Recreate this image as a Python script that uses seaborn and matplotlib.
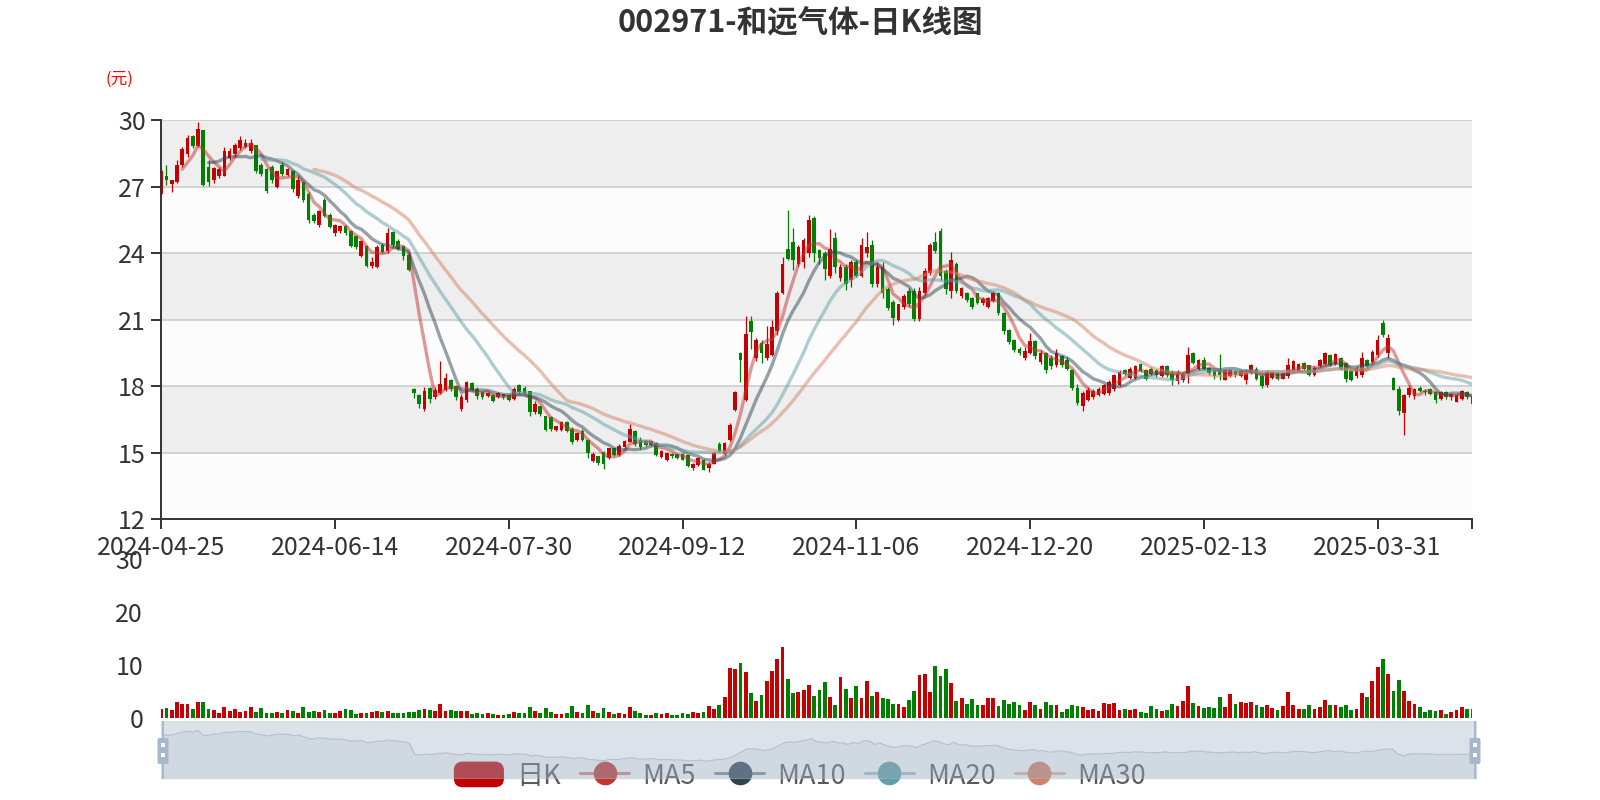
# Load libraries
import numpy as np
import pandas as pd
import matplotlib
matplotlib.use('Agg')
from matplotlib import pyplot as plt
from matplotlib.patches import Rectangle, FancyBboxPatch, Patch
from matplotlib.lines import Line2D
from matplotlib.legend_handler import HandlerPatch
from matplotlib.transforms import IdentityTransform
import seaborn as sns

# Daily K data for 002971, 2024-04-25 .. 2025-04-25
tick_labels = ['2024-04-25', '2024-06-14', '2024-07-30', '2024-09-12',
               '2024-11-06', '2024-12-20', '2025-02-13', '2025-03-31']

open_ = [
    26.7, 27.5, 27.15, 27.2, 28.0, 28.5, 29.3, 28.85, 29.55, 27.9,
    27.3, 27.5, 27.5, 28.3, 28.5, 28.75, 28.8, 28.6, 28.9, 28.0,
    27.8, 27.9, 27.0, 28.0, 27.55, 27.7, 26.6, 27.2, 26.7, 25.75,
    25.3, 26.4, 25.75, 24.9, 25.0, 25.25, 25.0, 24.8, 23.9, 24.35,
    23.45, 23.4, 24.4, 24.1, 24.95, 24.55, 24.35, 23.95, 17.9, 17.6,
    17.0, 17.95, 17.5, 17.7, 17.85, 18.3, 18.0, 17.0, 17.4, 18.15,
    17.9, 17.75, 17.55, 17.6, 17.5, 17.65, 17.6, 17.45, 18.05, 17.95,
    17.8, 16.85, 17.1, 16.65, 16.6, 16.05, 16.05, 16.4, 16.1, 15.6,
    16.0, 15.6, 14.65, 14.85, 15.05, 14.75, 15.2, 14.9, 15.25, 15.5,
    16.0, 15.6, 15.55, 15.35, 15.45, 14.8, 14.7, 14.95, 14.95, 14.95,
    14.9, 14.3, 14.45, 14.7, 14.3, 14.5, 15.4, 14.95, 15.6, 16.95,
    19.5, 17.4, 20.95, 19.3, 19.95, 19.3, 19.4, 20.5, 22.2, 24.2,
    24.5, 23.5, 23.6, 24.0, 25.6, 24.15, 24.0, 23.0, 24.7, 22.9,
    23.4, 22.8, 23.6, 23.0, 24.0, 24.4, 22.6, 23.4, 22.4, 21.8,
    21.0, 21.6, 22.3, 22.3, 21.05, 22.2, 23.1, 24.5, 25.0, 23.2,
    22.3, 23.5, 22.1, 22.2, 22.0, 22.2, 21.75, 21.6, 21.85, 22.2,
    21.3, 20.55, 20.1, 19.7, 19.3, 19.5, 20.05, 19.1, 19.5, 19.3,
    18.95, 19.35, 19.2, 18.75, 17.95, 17.1, 17.4, 17.5, 17.6, 17.65,
    17.7, 17.9, 18.05, 18.75, 18.4, 18.4, 19.0, 18.75, 18.8, 18.75,
    18.45, 18.9, 18.6, 18.25, 18.3, 18.55, 19.5, 18.8, 19.2, 18.85,
    18.7, 18.75, 18.3, 18.45, 18.7, 18.45, 18.3, 18.6, 18.8, 18.45,
    18.05, 18.4, 18.6, 18.35, 18.45, 18.75, 18.7, 19.05, 18.95, 18.5,
    18.9, 19.0, 19.4, 19.0, 19.3, 19.05, 18.7, 18.45, 18.5, 19.2,
    19.1, 19.4, 20.85, 19.5, 18.4, 17.9, 16.8, 17.6, 17.55, 17.95,
    17.8, 17.9, 17.75, 17.45, 17.75, 17.5, 17.3, 17.45, 17.75, 17.5,
]
close = [
    27.7, 27.3, 27.3, 28.0, 28.7, 29.2, 28.85, 29.6, 27.1, 27.2,
    27.85, 27.8, 28.6, 28.6, 28.9, 29.1, 29.0, 29.0, 27.7, 27.6,
    26.8, 27.3, 27.7, 27.6, 27.8, 26.9, 27.3, 26.4, 25.5, 25.45,
    25.9, 25.7, 25.2, 25.3, 25.25, 24.9, 24.35, 24.3, 24.55, 23.45,
    23.6, 24.3, 24.05, 24.9, 24.4, 24.2, 23.9, 23.25, 17.7, 17.2,
    17.8, 17.45, 17.85, 18.1, 18.4, 17.9, 17.5, 17.5, 18.2, 17.85,
    17.55, 17.5, 17.7, 17.35, 17.7, 17.5, 17.4, 17.9, 17.75, 17.7,
    16.85, 17.2, 16.75, 16.05, 16.1, 16.2, 16.4, 16.0, 15.5, 15.9,
    15.6, 15.0, 14.95, 14.55, 14.5, 15.2, 14.9, 15.3, 15.55, 16.1,
    15.4, 15.25, 15.35, 15.55, 14.9, 15.1, 15.0, 14.85, 14.75, 14.7,
    14.4, 14.5, 14.75, 14.25, 14.5, 15.0, 15.1, 15.45, 16.25, 17.75,
    19.2, 20.35, 20.45, 20.1, 19.5, 19.9, 20.7, 22.2, 23.5, 23.75,
    23.7, 24.3, 24.6, 25.5, 24.0, 23.8, 23.3, 24.2, 23.4, 23.4,
    22.6, 23.6, 23.0, 24.4, 24.3, 22.6, 23.4, 22.2, 21.55, 21.1,
    21.7, 22.1, 21.7, 21.05, 22.3, 23.2, 24.4, 24.1, 23.0, 22.4,
    23.7, 22.3, 22.45, 21.9, 21.6, 21.75, 21.95, 22.0, 22.2, 21.3,
    20.5, 20.0, 19.65, 19.5, 19.6, 20.05, 19.35, 19.5, 18.75, 18.9,
    19.5, 18.95, 18.8, 17.95, 17.25, 17.7, 17.85, 17.8, 17.9, 18.05,
    18.2, 18.5, 18.65, 18.55, 18.8, 18.9, 18.7, 18.35, 18.55, 18.5,
    18.9, 18.5, 18.3, 18.6, 18.55, 19.4, 19.05, 19.2, 18.8, 18.6,
    18.45, 18.5, 18.75, 18.75, 18.5, 18.7, 18.6, 18.95, 18.35, 18.0,
    18.65, 18.65, 18.35, 18.6, 18.95, 19.15, 19.0, 18.8, 18.5, 18.85,
    19.2, 19.5, 18.95, 19.45, 18.8, 18.35, 18.3, 18.85, 19.3, 18.9,
    19.55, 20.1, 20.3, 20.2, 17.85, 16.9, 17.6, 17.95, 17.9, 17.8,
    17.75, 17.65, 17.4, 17.75, 17.5, 17.65, 17.6, 17.8, 17.5, 17.2,
]
high = [
    27.85, 28.0, 27.3, 28.22, 28.82, 29.35, 29.35, 29.95, 29.58, 28.22,
    27.92, 27.92, 28.82, 28.75, 28.97, 29.31, 29.16, 29.16, 28.9, 28.07,
    27.84, 27.99, 27.72, 28.14, 27.84, 27.77, 27.47, 27.24, 26.79, 25.81,
    25.96, 26.49, 25.81, 25.32, 25.28, 25.28, 25.05, 24.83, 24.6, 24.37,
    23.85, 24.37, 24.49, 25.13, 25.0, 24.63, 24.38, 24.0, 17.92, 17.66,
    17.96, 17.99, 17.96, 19.15, 18.6, 18.33, 18.03, 17.66, 18.25, 18.18,
    17.96, 17.81, 17.73, 17.66, 17.76, 17.66, 17.66, 17.96, 18.1, 18.03,
    17.81, 17.36, 17.13, 16.68, 16.68, 16.23, 16.45, 16.45, 16.15, 15.93,
    16.08, 15.62, 15.02, 14.87, 15.1, 15.22, 15.22, 15.4, 15.6, 16.3,
    16.03, 15.7, 15.6, 15.55, 15.5, 15.15, 15.02, 15.0, 14.97, 14.98,
    14.92, 14.55, 14.8, 14.72, 14.57, 15.05, 15.47, 15.48, 16.36, 17.77,
    19.55, 21.18, 21.18, 20.2, 20.1, 20.73, 21.0, 22.3, 23.83, 25.96,
    25.13, 24.38, 24.68, 25.73, 25.68, 24.2, 24.13, 25.08, 24.98, 23.5,
    23.5, 23.72, 23.72, 24.7, 24.98, 24.6, 23.6, 23.6, 22.49, 21.88,
    21.73, 22.19, 22.42, 22.42, 22.49, 23.32, 24.45, 24.98, 25.13, 23.29,
    24.07, 23.6, 22.5, 22.25, 22.05, 22.22, 22.05, 22.05, 22.25, 22.25,
    21.35, 20.6, 20.15, 19.8, 19.78, 20.4, 20.08, 19.63, 19.55, 19.4,
    19.7, 19.4, 19.32, 18.8, 18.12, 17.81, 17.96, 17.9, 17.96, 18.12,
    18.27, 18.57, 18.72, 18.8, 18.87, 18.95, 19.06, 18.8, 18.87, 18.8,
    18.95, 18.95, 18.72, 18.72, 18.65, 19.78, 19.55, 19.25, 19.32, 18.87,
    18.72, 19.48, 18.8, 18.8, 18.72, 18.72, 18.8, 19.02, 18.87, 18.5,
    18.73, 18.7, 18.65, 18.62, 19.26, 19.2, 19.05, 19.12, 18.97, 18.9,
    19.23, 19.56, 19.45, 19.5, 19.33, 19.1, 18.75, 18.9, 19.56, 19.25,
    19.63, 20.3, 20.98, 20.38, 18.42, 18.0, 17.67, 18.05, 17.95, 18.0,
    17.9, 17.92, 17.8, 17.8, 17.78, 17.7, 17.65, 17.82, 17.78, 17.55,
]
low = [
    26.6, 27.1, 26.75, 27.16, 27.92, 28.37, 28.75, 28.82, 27.04, 27.04,
    27.16, 27.39, 27.47, 28.22, 28.37, 28.67, 28.75, 28.52, 27.62, 27.47,
    26.74, 27.16, 26.97, 27.47, 27.47, 26.79, 26.49, 26.33, 25.35, 25.35,
    25.2, 25.66, 25.13, 24.78, 24.9, 24.83, 24.3, 24.22, 23.85, 23.39,
    23.32, 23.32, 24.0, 24.0, 24.3, 24.15, 23.7, 23.2, 17.48, 17.03,
    16.91, 17.24, 17.45, 17.66, 17.81, 17.81, 17.39, 16.91, 17.28, 17.81,
    17.43, 17.43, 17.51, 17.28, 17.48, 17.43, 17.36, 17.39, 17.66, 17.66,
    16.68, 16.76, 16.68, 16.0, 16.0, 16.0, 16.0, 15.93, 15.4, 15.55,
    15.55, 14.79, 14.57, 14.47, 14.27, 14.72, 14.87, 14.87, 15.18, 15.47,
    15.32, 15.18, 15.3, 15.3, 14.87, 14.75, 14.65, 14.78, 14.72, 14.69,
    14.35, 14.22, 14.4, 14.22, 14.13, 14.48, 15.02, 14.9, 15.55, 16.9,
    18.2, 17.36, 19.67, 19.14, 19.06, 19.2, 19.36, 20.3, 22.18, 23.7,
    23.25, 23.43, 23.32, 23.85, 23.62, 23.5, 22.78, 22.9, 23.1, 22.75,
    22.34, 22.49, 22.93, 22.93, 23.85, 22.49, 22.49, 22.0, 21.43, 20.75,
    20.97, 21.51, 21.58, 20.97, 20.97, 22.12, 23.02, 24.0, 22.78, 22.16,
    22.0, 22.2, 22.0, 21.8, 21.5, 21.7, 21.65, 21.55, 21.8, 21.2,
    20.37, 19.93, 19.55, 19.4, 19.2, 19.45, 19.25, 19.02, 18.6, 18.8,
    18.87, 18.87, 18.72, 17.84, 17.14, 16.91, 17.36, 17.43, 17.58, 17.6,
    17.6, 17.81, 18.0, 18.5, 18.35, 18.35, 18.65, 18.3, 18.5, 18.42,
    18.42, 18.42, 18.05, 18.12, 18.2, 18.15, 19.02, 18.72, 18.72, 18.5,
    18.35, 18.27, 18.27, 18.42, 18.42, 18.42, 18.12, 18.57, 18.27, 17.93,
    17.97, 18.35, 18.3, 18.32, 18.36, 18.7, 18.68, 18.75, 18.45, 18.45,
    18.88, 18.98, 18.9, 18.95, 18.75, 18.2, 18.25, 18.4, 18.42, 18.85,
    19.05, 19.33, 20.23, 19.26, 17.82, 16.69, 15.79, 17.52, 17.45, 17.75,
    17.6, 17.6, 17.25, 17.4, 17.45, 17.4, 17.28, 17.4, 17.45, 17.15,
]
volume = [
    1.85, 2.04, 1.67, 3.09, 2.78, 2.78, 1.85, 3.15, 3.02, 1.85,
    1.67, 0.93, 2.22, 1.36, 1.85, 1.3, 1.42, 2.22, 1.3, 2.04,
    1.05, 1.11, 1.3, 0.99, 1.6, 1.42, 1.11, 2.16, 1.23, 1.48,
    1.3, 1.67, 1.05, 0.93, 1.48, 1.79, 1.54, 0.8, 1.11, 1.11,
    1.2, 1.36, 1.3, 1.48, 1.05, 0.93, 1.11, 1.3, 1.3, 1.6,
    1.85, 1.67, 1.48, 2.72, 1.42, 1.67, 1.42, 1.42, 1.48, 0.8,
    0.93, 0.9, 0.93, 0.8, 0.68, 0.56, 0.74, 1.3, 1.11, 1.11,
    2.16, 1.36, 0.93, 1.91, 1.17, 0.8, 0.8, 1.11, 2.28, 1.3,
    0.99, 2.6, 1.36, 1.11, 1.98, 1.23, 0.74, 0.99, 0.86, 2.1,
    1.42, 1.05, 0.62, 0.56, 1.11, 0.86, 0.99, 0.56, 0.68, 1.11,
    0.8, 1.17, 1.05, 1.23, 2.35, 1.79, 2.53, 4.01, 9.57, 9.38,
    10.37, 8.7, 4.75, 3.27, 4.38, 7.1, 8.95, 11.17, 13.52, 7.35,
    4.75, 4.94, 5.31, 6.36, 4.2, 5.37, 6.85, 3.95, 2.47, 7.72,
    5.49, 3.89, 6.05, 3.89, 6.98, 4.2, 5.0, 3.89, 3.7, 2.72,
    2.65, 2.22, 3.4, 5.12, 8.09, 8.33, 5.0, 9.88, 7.96, 9.38,
    6.73, 3.27, 3.89, 2.65, 3.7, 2.47, 2.59, 3.89, 3.77, 2.28,
    3.46, 2.65, 3.02, 2.59, 1.67, 3.09, 2.6, 1.73, 3.02, 2.6,
    2.6, 1.23, 1.85, 2.6, 2.41, 2.16, 1.6, 1.85, 1.36, 2.9,
    2.72, 2.9, 1.67, 1.79, 1.54, 1.79, 1.3, 1.11, 2.28, 1.79,
    1.42, 1.6, 2.78, 2.3, 3.33, 6.17, 2.84, 2.28, 1.98, 2.16,
    2.04, 4.01, 2.16, 4.57, 2.78, 3.09, 2.9, 3.09, 2.53, 2.16,
    2.6, 1.91, 1.6, 2.28, 5.0, 2.6, 1.85, 1.85, 2.6, 1.79,
    2.1, 3.4, 2.6, 2.47, 2.22, 2.53, 1.54, 1.85, 4.75, 4.01,
    6.98, 9.75, 11.23, 8.46, 5.12, 7.16, 5.19, 3.21, 2.78, 2.16,
    1.23, 1.6, 1.42, 1.5, 0.8, 1.3, 1.6, 2.22, 1.79, 1.73,
]

ma_windows = [5, 10, 20, 30]
ma_colors = ['#c23531', '#2f4554', '#61a0a8', '#d48265']
RED = '#c40000'
GREEN = '#008000'

df = pd.DataFrame({'open': open_, 'close': close, 'high': high, 'low': low, 'vol': volume})
df['idx'] = np.arange(len(df))
df['dir'] = np.where(df['close'] >= df['open'], 'up', 'down')
for n in ma_windows:
    df['MA%d' % n] = df['close'].rolling(n).mean()
n_last = len(df) - 1

sns.set_theme(style='white')
plt.rcParams['font.family'] = ['Noto Sans CJK SC', 'DejaVu Sans']

# pixel helpers (figure is 1600 x 800)
W, H = 1600, 800
def fx(px):
    return px / W
def fy(py):
    return 1 - py / H

fig = plt.figure(figsize=(16, 8), dpi=100)
ax = fig.add_axes([fx(161.2), fy(519.4), (1472.4 - 161.2) / W, (519.4 - 120.4) / H])
ax_vol = fig.add_axes([fx(161.2), fy(718.4), (1472.4 - 161.2) / W, (718.4 - 559.2) / H])
ax_sl = fig.add_axes([fx(161), fy(779), (1477 - 161) / W, (779 - 721) / H])

# ---- price panel ----
for k, lo in enumerate(range(12, 30, 3)):
    ax.axhspan(lo, lo + 3, color='#fcfcfc' if k % 2 == 0 else '#eeeeee', lw=0, zorder=0)
for y in range(15, 31, 3):
    ax.axhline(y, color='#cccccc', lw=1.2, zorder=0.5)

cols = np.where(df['dir'] == 'up', RED, GREEN)
ax.vlines(df['idx'], df['low'], df['high'], colors=cols, lw=0.9, zorder=2)
body_lo = np.minimum(df['open'], df['close'])
body_h = np.maximum((df['close'] - df['open']).abs(), 0.03)
ax.bar(df['idx'], body_h, bottom=body_lo, width=0.7, color=cols, lw=0, zorder=2.5)

for n, c in zip(ma_windows, ma_colors):
    sns.lineplot(data=df, x='idx', y='MA%d' % n, ax=ax, color=c, alpha=0.5, lw=2.4,
                 zorder=3, solid_capstyle='round')

ax.set_xlim(0, n_last)
ax.set_ylim(12, 30)
ax.set_yticks(range(12, 31, 3))
ax.set_xticks(range(0, 232, 33))
ax.set_xticklabels(tick_labels)
ax.set_xticks([n_last], minor=True)
ax.set_xlabel('')
ax.set_ylabel('')
for s in ['top', 'right']:
    ax.spines[s].set_visible(False)
for s in ['left', 'bottom']:
    ax.spines[s].set_color('#333333')
    ax.spines[s].set_linewidth(1.4)
    ax.spines[s].set_zorder(4)
ax.tick_params(axis='both', which='both', direction='out', length=7.2, width=1.4,
               color='#333333', labelsize=18, labelcolor='#333333',
               bottom=True, left=True, pad=4)

# ---- volume panel ----
sns.barplot(data=df, x='idx', y='vol', hue='dir', palette={'up': RED, 'down': GREEN},
            native_scale=True, width=0.72, dodge=False, errorbar=None, legend=False,
            saturation=1, linewidth=0, ax=ax_vol)
ax_vol.set_xlim(0, n_last)
ax_vol.set_ylim(0, 30)
ax_vol.set_yticks([0, 10, 20, 30])
ax_vol.set_xticks([])
ax_vol.set_xlabel('')
ax_vol.set_ylabel('')
for s in ax_vol.spines.values():
    s.set_visible(False)
ax_vol.tick_params(axis='y', length=0, labelsize=18, labelcolor='#333333', pad=13)
ax_vol.patch.set_alpha(0)

# ---- data zoom slider ----
ax_sl.set_xlim(0, n_last)
ax_sl.set_ylim(5.3, 34.3)
ax_sl.fill_between(df['idx'], df['close'], 5.3, color='#2f4554', alpha=0.09, lw=0)
sns.lineplot(data=df, x='idx', y='close', ax=ax_sl, color='#2f4554', alpha=0.3, lw=0.8)
ax_sl.add_patch(Rectangle((0, 0), 1, 1, transform=ax_sl.transAxes, fc='#a7b7cc',
                          alpha=0.4, lw=0, zorder=3))
ax_sl.add_patch(Rectangle((0, 0), 1, 1, transform=ax_sl.transAxes, fill=False,
                          ec='#dddddd', lw=1.0, zorder=4))
ax_sl.axis('off')
ax_sl.patch.set_alpha(0)
ax_sl.set_zorder(5)

pix = IdentityTransform()
for hx in [163, 1475]:
    fig.add_artist(Rectangle((hx - 1.2, H - 779), 2.4, 58, transform=pix,
                             fc='#a7b7cc', lw=0, zorder=6))
    fig.add_artist(FancyBboxPatch((hx - 5.5, H - 764), 11, 26, transform=pix,
                                  boxstyle='round,pad=0,rounding_size=2',
                                  fc='#a7b7cc', lw=0, zorder=6))
    for hy in [745, 755]:
        fig.add_artist(Rectangle((hx - 2, H - hy - 2), 4, 4, transform=pix,
                                 fc='white', lw=0, zorder=7))

# ---- legend ----
def round_icon(legend, orig_handle, xdescent, ydescent, width, height, fontsize):
    return FancyBboxPatch((-xdescent, -ydescent), width, height,
                          boxstyle='round,pad=0,rounding_size=6')

handles = [Patch(facecolor=RED, edgecolor=RED)]
for c in ma_colors:
    rgba = matplotlib.colors.to_rgba(c, 0.6)
    handles.append(Line2D([0], [0], color=rgba, lw=2.2, marker='o', markersize=16,
                          markerfacecolor=c, markeredgecolor=c))
labels = ['日K'] + ['MA%d' % n for n in ma_windows]
leg = fig.legend(handles, labels, loc='center', bbox_to_anchor=(0.5, fy(776)), ncol=5,
                 frameon=False, fontsize=19.5, handlelength=1.8, handleheight=1.0,
                 handletextpad=0.48, columnspacing=0.72, labelcolor='#5a5a5a',
                 handler_map={Patch: HandlerPatch(patch_func=round_icon)})
leg.set_zorder(1)

# ---- titles ----
fig.text(0.5, fy(22.5), '002971-和远气体-日K线图', ha='center', va='center',
         fontsize=22, fontweight='bold', color='#333333')
fig.text(fx(119.4), fy(79.6), '(元)', ha='center', va='center', fontsize=12, color='red')

fig.savefig('out.png', dpi=100)
